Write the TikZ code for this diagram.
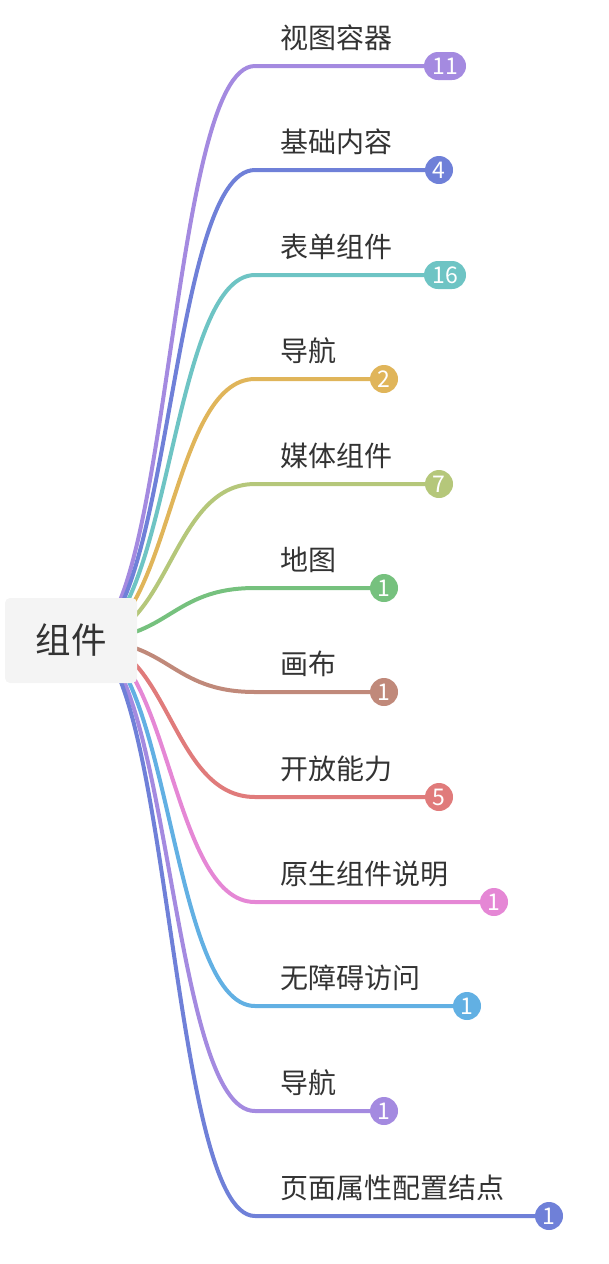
\documentclass[tikz,border=0pt]{standalone}
\usepackage{fontspec}
\setmainfont{Noto Sans CJK SC}
\usepackage{xcolor}
\usetikzlibrary{calc, backgrounds}

\definecolor{cPurple}{HTML}{A48AE0}
\definecolor{cIndigo}{HTML}{6F80D8}
\definecolor{cTeal}{HTML}{6EC4C4}
\definecolor{cGold}{HTML}{E0B55A}
\definecolor{cOlive}{HTML}{B5C77A}
\definecolor{cGreen}{HTML}{76C17E}
\definecolor{cBrown}{HTML}{C0897A}
\definecolor{cRed}{HTML}{E07B7B}
\definecolor{cPink}{HTML}{E587D5}
\definecolor{cSky}{HTML}{62B0E3}
\definecolor{rootgray}{HTML}{F4F4F4}
\definecolor{txt}{HTML}{333333}

\begin{document}
\begin{tikzpicture}[x=1pt, y=-1pt]

\tikzset{
  rootbox/.style={fill=rootgray, rounded corners=5pt, minimum width=132pt,
                  minimum height=85pt, inner sep=0pt, text=txt,
                  font=\fontsize{35.5}{40}\selectfont},
  topic/.style={anchor=west, inner sep=0pt, text=txt,
                font=\fontsize{28}{32}\selectfont},
  badge/.style={fill=#1, rounded corners=14pt, minimum width=28pt,
                minimum height=28pt, inner sep=0pt, text=white,
                font=\fontsize{23}{26}\selectfont},
  pill/.style={badge=#1, minimum width=42pt},
  link/.style={draw=#1, line width=4pt, line cap=round},
}

\def\KX{255}  % x where a branch turns level
\def\CP{85}   % control arm of a branch

\useasboundingbox (0,0) rectangle (608,1264);

% ---- Hub and knots ---------------------------------------------------------
\coordinate (hub) at (85,640);
\coordinate (k1)  at (\KX,66);
\coordinate (k2)  at (\KX,170);
\coordinate (k3)  at (\KX,275);
\coordinate (k4)  at (\KX,379);
\coordinate (k5)  at (\KX,484);
\coordinate (k6)  at (\KX,588);
\coordinate (k7)  at (\KX,692);
\coordinate (k8)  at (\KX,797);
\coordinate (k9)  at (\KX,902);
\coordinate (k10) at (\KX,1006);
\coordinate (k11) at (\KX,1111);
\coordinate (k12) at (\KX,1216);

% ---- Count badges ----------------------------------------------------------
\node[pill=cPurple]  (b1)  at (445,66)   {11};
\node[badge=cIndigo] (b2)  at (439,170)  {4};
\node[pill=cTeal]    (b3)  at (445,275)  {16};
\node[badge=cGold]   (b4)  at (384,379)  {2};
\node[badge=cOlive]  (b5)  at (439,484)  {7};
\node[badge=cGreen]  (b6)  at (384,588)  {1};
\node[badge=cBrown]  (b7)  at (384,692)  {1};
\node[badge=cRed]    (b8)  at (439,797)  {5};
\node[badge=cPink]   (b9)  at (494,902)  {1};
\node[badge=cSky]    (b10) at (467,1006) {1};
\node[badge=cPurple] (b11) at (384,1111) {1};
\node[badge=cIndigo] (b12) at (549,1216) {1};

% ---- Root ------------------------------------------------------------------
\node[rootbox] (root) at (71,640.5) {组件};

% ---- Branches, behind root and badges --------------------------------------
\begin{scope}[on background layer]
\foreach \i/\c in {1/cPurple, 2/cIndigo, 3/cTeal, 4/cGold, 5/cOlive,
                   6/cGreen, 7/cBrown, 8/cRed, 9/cPink, 10/cSky,
                   11/cPurple, 12/cIndigo}{
  \path[link=\c] (hub) .. controls ($(hub)+(\CP,0)$) and ($(k\i)+(-\CP,0)$)
    .. (k\i) -- (b\i.center);
}
\end{scope}

% ---- Topic labels ----------------------------------------------------------
\node[topic] (t1)  at (280,38)   {视图容器};
\node[topic] (t2)  at (280,142)  {基础内容};
\node[topic] (t3)  at (280,247)  {表单组件};
\node[topic] (t4)  at (280,351)  {导航};
\node[topic] (t5)  at (280,456)  {媒体组件};
\node[topic] (t6)  at (280,560)  {地图};
\node[topic] (t7)  at (280,664)  {画布};
\node[topic] (t8)  at (280,769)  {开放能力};
\node[topic] (t9)  at (280,874)  {原生组件说明};
\node[topic] (t10) at (280,978)  {无障碍访问};
\node[topic] (t11) at (280,1083) {导航};
\node[topic] (t12) at (280,1188) {页面属性配置结点};

\end{tikzpicture}
\end{document}
